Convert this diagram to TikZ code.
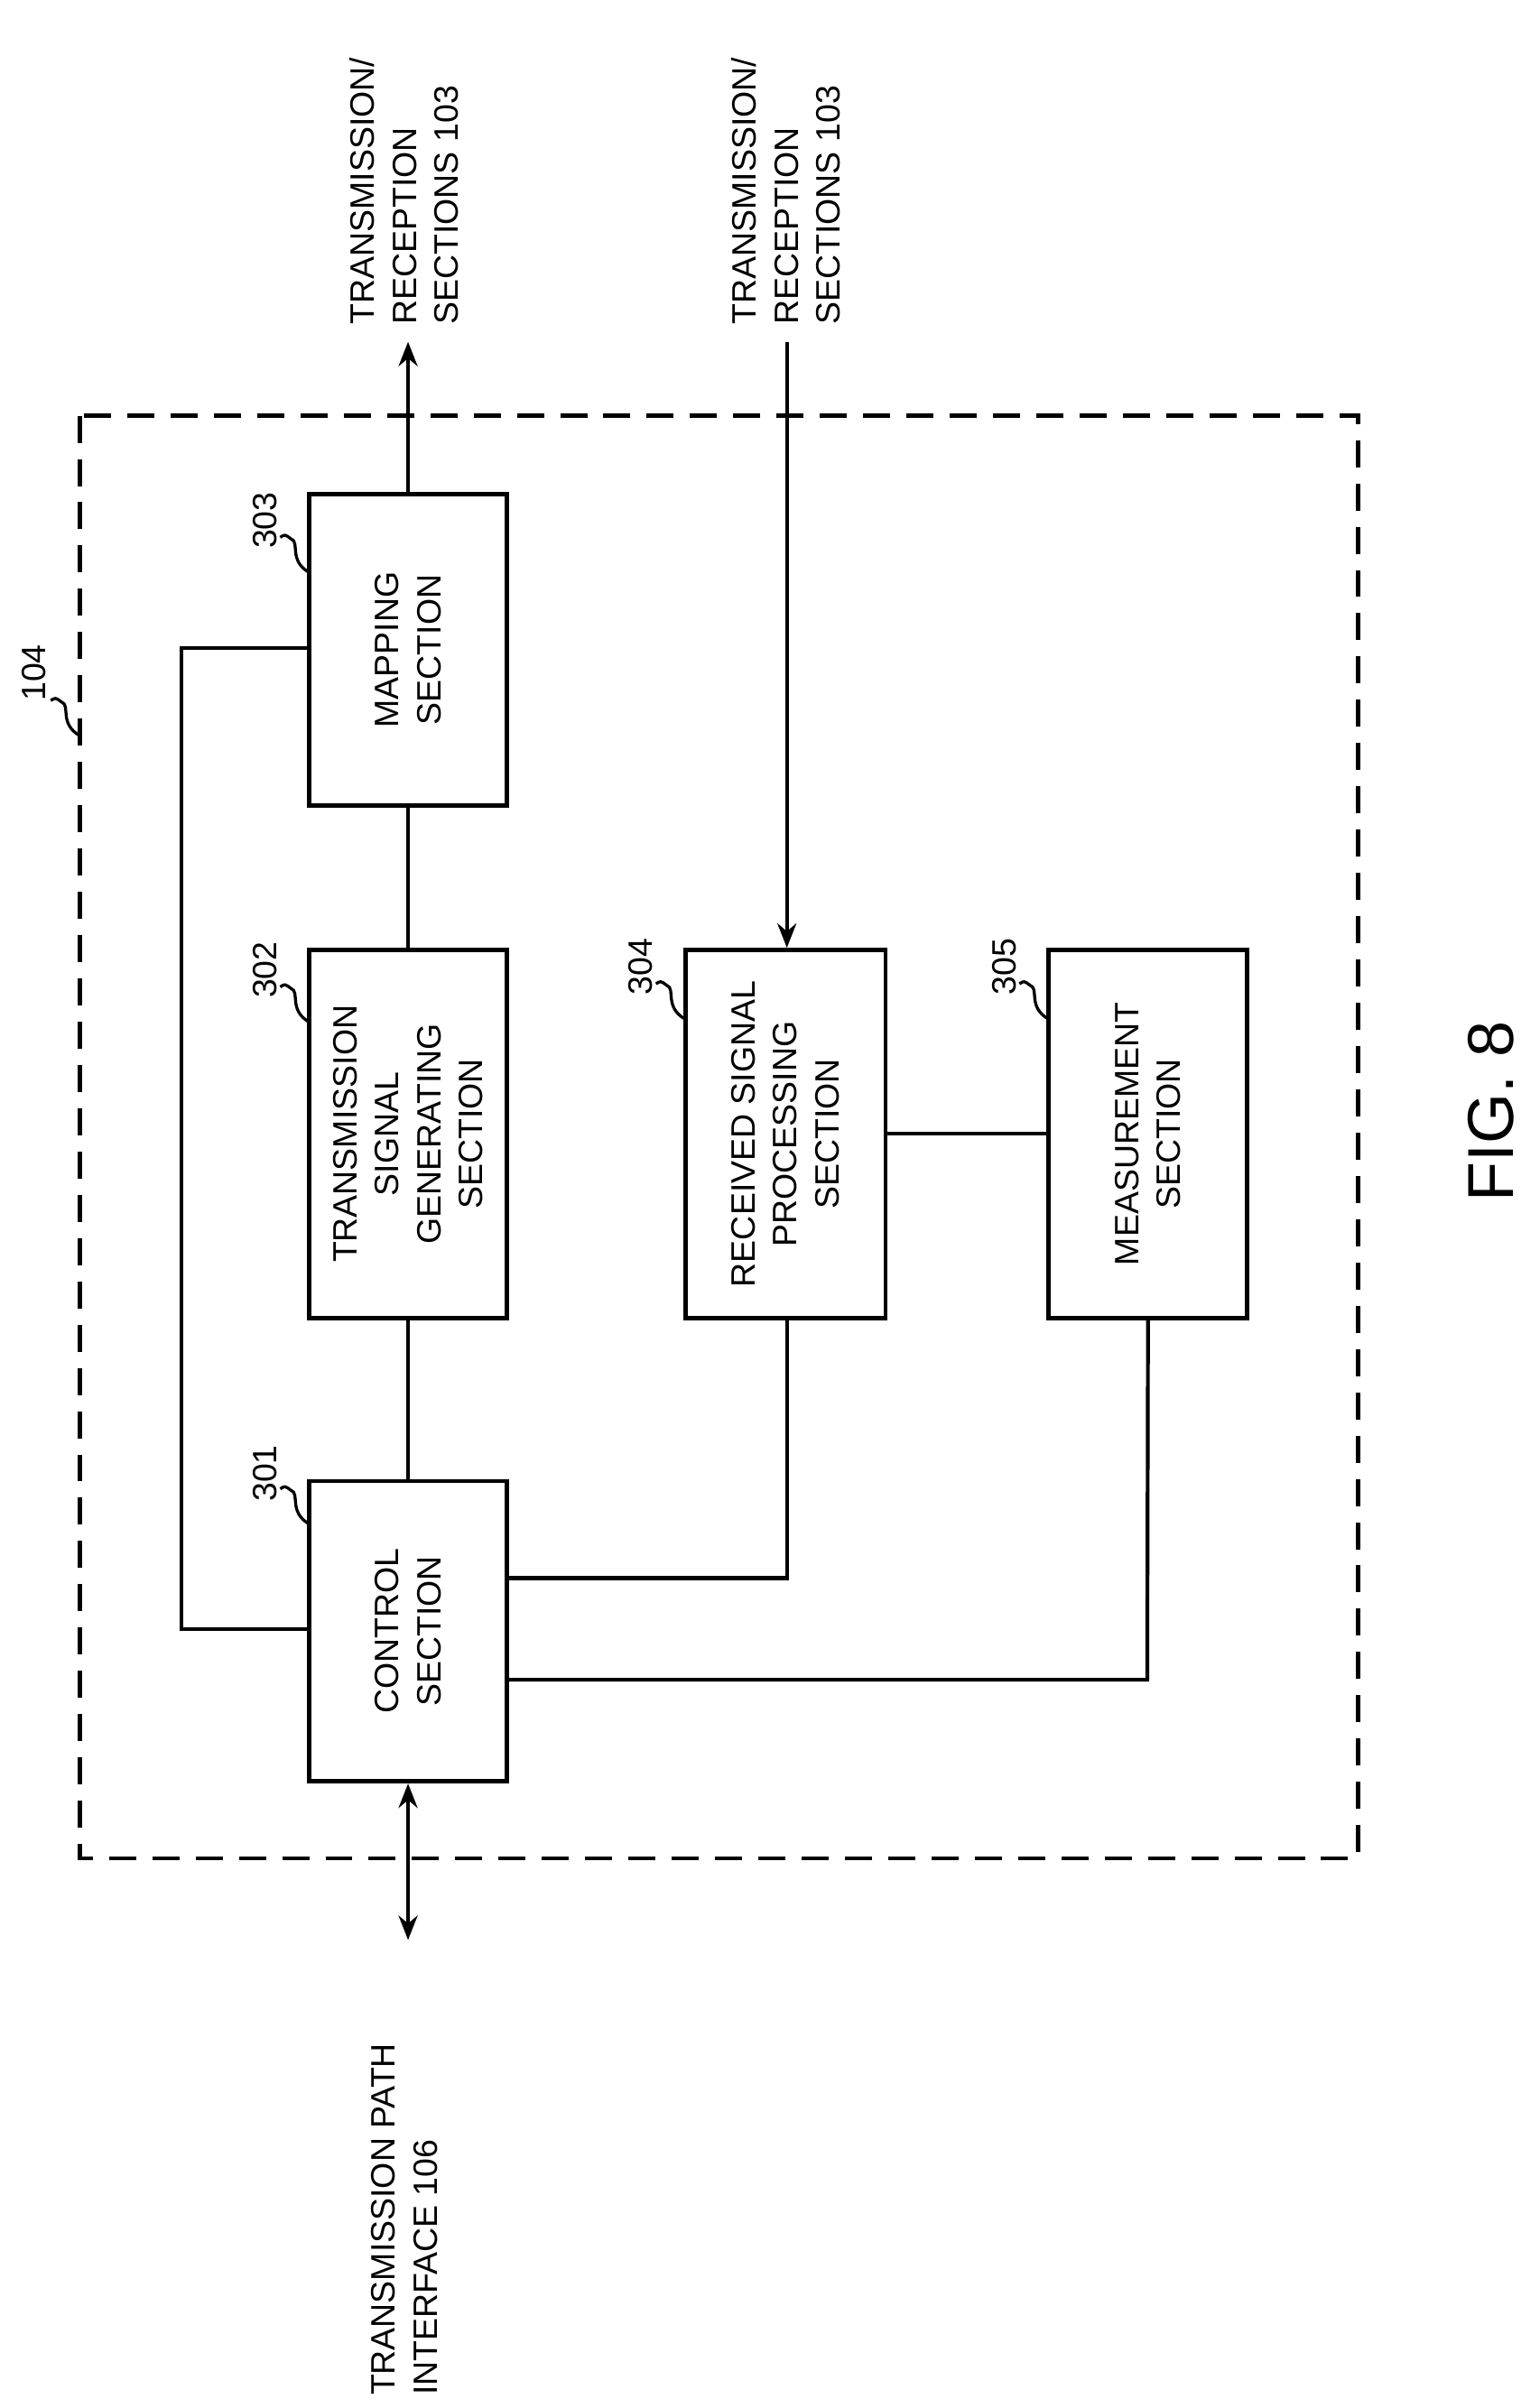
\documentclass[tikz,border=0pt]{standalone}
\usepackage{fontspec}
\setmainfont{Liberation Sans}
\usetikzlibrary{arrows.meta}
\begin{document}
\begin{tikzpicture}[x=0.02cm,y=-0.02cm,line width=1.4pt,
  blk/.style={draw,line width=1.6pt,rotate=90,inner sep=0pt,font=\fontsize{12.5}{15.5}\selectfont,align=center},
  lbl/.style={rotate=90,font=\fontsize{12.5}{15.5}\selectfont,align=left,inner sep=0pt},
  num/.style={rotate=90,font=\fontsize{12.5}{15}\selectfont,inner sep=0pt},
  arr/.style={-{Stealth[length=9pt,width=7pt]}}]
\useasboundingbox (0,0) rectangle (1000,1564);
\draw[dash pattern=on 10pt off 6pt,line width=1.6pt] (52,270) rectangle (882,1207);
% boxes: rotated, so minimum width is vertical extent
\node[blk,minimum width=202*0.02cm,minimum height=128*0.02cm] (map) at (265,422) {MAPPING\\SECTION};
\node[blk,minimum width=239*0.02cm,minimum height=128*0.02cm] (tsg) at (265,736.5) {TRANSMISSION\\SIGNAL\\GENERATING\\SECTION};
\node[blk,minimum width=195*0.02cm,minimum height=128*0.02cm] (ctl) at (265,1059.5) {CONTROL\\SECTION};
\node[blk,minimum width=239*0.02cm,minimum height=130*0.02cm] (rsp) at (510,736.5) {RECEIVED SIGNAL\\PROCESSING\\SECTION};
\node[blk,minimum width=239*0.02cm,minimum height=129*0.02cm] (mea) at (745.5,736.5) {MEASUREMENT\\SECTION};
\draw (map.west) -- (tsg.east);
\draw (tsg.west) -- (ctl.east);
\draw (rsp) -- (mea);
\coordinate (l1) at (118,421); \coordinate (l2) at (118,1058);
\draw (201,421) -- (l1) -- (l2) -- (201,1058);
\coordinate (r1) at (511,1025);
\draw (329,1025) -- (r1) -- (rsp.south west -| r1);
\coordinate (m1) at (745,1091);
\draw (329,1091) -- (m1) -- (mea.west);
\coordinate (top1) at (265,222);
\coordinate (top2) at (511,222);
\coordinate (bot) at (265,1260);
\draw[arr] (map.east) -- (top1);
\draw[arr] (top2) -- (rsp.east -| top2);
\draw[{Stealth[length=9pt,width=7pt]}-{Stealth[length=9pt,width=7pt]}] (ctl.west) -- (bot);
\node[lbl,anchor=north west] (t1) at (226,212) {TRANSMISSION/\\RECEPTION\\SECTIONS 103};
\node[lbl,anchor=north west] (t2) at (474,212) {TRANSMISSION/\\RECEPTION\\SECTIONS 103};
\node[lbl,anchor=north west] (t3) at (240,1557) {TRANSMISSION PATH\\INTERFACE 106};
\node[rotate=90,font=\fontsize{24}{24}\selectfont,inner sep=0pt] (fig) at (968,722) {FIG. 8};
% ref numbers
\node[num] (n104) at (22,437) {104};
\node[num] (n303) at (172,338) {303};
\node[num] (n302) at (172,630) {302};
\node[num] (n301) at (172,957) {301};
\node[num] (n304) at (416,628) {304};
\node[num] (n305) at (652,628) {305};
\tikzset{sq/.style={line width=1.1pt}}
\draw[sq] (52,478) .. controls (38,470) and (46,458) .. (40,456) .. controls (36,453) .. (33,455);
\foreach \x/\y in {201/372, 201/664, 201/990, 445/662, 681/662}{
  \draw[sq] (\x,\y) .. controls (\x-14,\y-8) and (\x-6,\y-20) .. (\x-12,\y-22) .. controls (\x-16,\y-25) .. (\x-19,\y-23);
}
\end{tikzpicture}
\end{document}
